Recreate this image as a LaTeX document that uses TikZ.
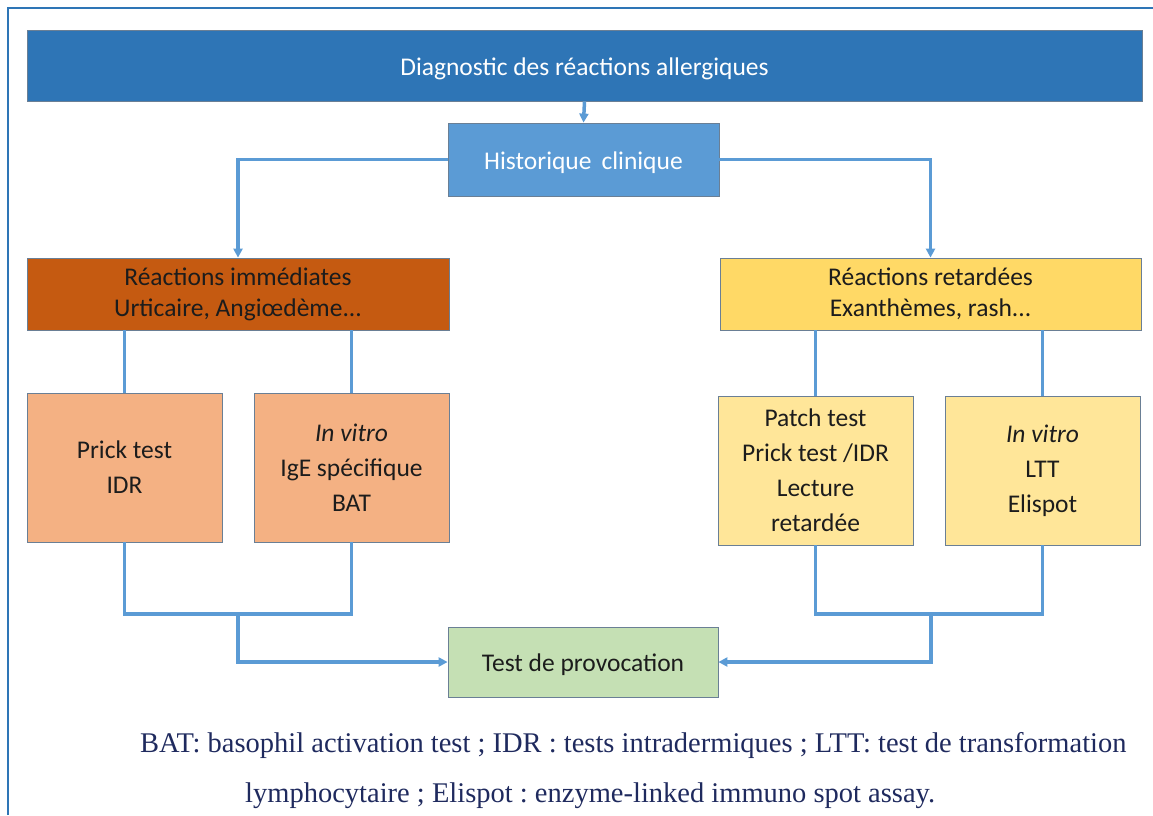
\documentclass[tikz,border=0pt]{standalone}
\usepackage{fontspec}
\setmainfont{Carlito}
\newfontfamily\capfont{Liberation Serif}
\usetikzlibrary{arrows.meta}
\frenchspacing
\definecolor{cTop}{HTML}{2E75B6}
\definecolor{cHist}{HTML}{5B9BD5}
\definecolor{cImm}{HTML}{C55A11}
\definecolor{cRet}{HTML}{FFD966}
\definecolor{cImmS}{HTML}{F4B183}
\definecolor{cRetS}{HTML}{FFE699}
\definecolor{cTest}{HTML}{C5E0B4}
\definecolor{cLine}{HTML}{5B9BD5}
\definecolor{cBorder}{HTML}{6A7F95}
\definecolor{cText}{HTML}{1C1C1C}
\definecolor{cCap}{HTML}{1F2A5E}
\newcommand{\lowr}[1]{\raisebox{-3pt}[\height][\depth]{#1}}
\tikzset{
  box/.style={draw=cBorder, line width=0.8pt, inner sep=0pt, align=center, text=cText,
    font=\fontsize{25.5pt}{31pt}\selectfont},
  subbox/.style={box, font=\fontsize{25.5pt}{35pt}\selectfont},
  conn/.style={draw=cLine, line width=3.5pt},
  arr/.style={-{Triangle[length=9pt,width=9pt]}},
  captext/.style={anchor=base west, inner sep=0pt, text=cCap, font=\capfont\fontsize{28.5pt}{34pt}\selectfont},
}
\begin{document}
\begin{tikzpicture}[x=1pt,y=-1pt]
\useasboundingbox (0,0) rectangle (1153,815);
% frame
\draw[cTop, line width=2pt] (8,815) -- (8,8) -- (1153,8);
% nodes
\node[box, fill=cTop, text=white, minimum width=1115pt, minimum height=71pt] (top) at (584.5,65.5) {\lowr{Diagnostic des réactions allergiques}};
\node[box, fill=cHist, text=white, minimum width=271pt, minimum height=73pt] (hist) at (583.5,159.5) {\lowr{Historique\, clinique}};
\node[box, fill=cImm, minimum width=422pt, minimum height=72pt] (imm) at (238,294) {Réactions immédiates\\Urticaire, Angiœdème...};
\node[box, fill=cRet, minimum width=421pt, minimum height=72pt] (ret) at (930.5,294) {Réactions retardées\\Exanthèmes, rash...};
\node[subbox, fill=cImmS, minimum width=195pt, minimum height=149pt] (prick) at (124.5,467.5) {Prick test\\IDR};
\node[subbox, fill=cImmS, minimum width=195pt, minimum height=149pt] (ivl) at (351.5,467.5) {\textit{In vitro}\\IgE spécifique\\BAT};
\node[subbox, fill=cRetS, minimum width=195pt, minimum height=149pt] (patch) at (815.5,470.5) {Patch test\\Prick test /IDR\\Lecture\\retardée};
\node[subbox, fill=cRetS, minimum width=195pt, minimum height=149pt] (ivr) at (1042.5,470.5) {\textit{In vitro}\\LTT\\Elispot};
\node[box, fill=cTest, minimum width=270pt, minimum height=70pt] (test) at (583,662) {\lowr{Test de provocation}};
% join points
\coordinate (jl) at (238,614);
\coordinate (jr) at (931,614);
% connectors
\draw[conn, arr] (top.south) -- (hist.north);
\draw[conn, arr] (hist.west) -| (imm.north);
\draw[conn, arr] (hist.east) -| (ret.north);
\draw[conn] (imm.south -| prick.north) -- (prick.north);
\draw[conn] (imm.south -| ivl.north) -- (ivl.north);
\draw[conn] (ret.south -| patch.north) -- (patch.north);
\draw[conn] (ret.south -| ivr.north) -- (ivr.north);
\draw[conn] (prick.south) |- (jl) -| (ivl.south);
\draw[conn] (patch.south) |- (jr) -| (ivr.south);
\draw[conn, arr] (jl) |- (test.west);
\draw[conn, arr] (jr) |- (test.east);
% caption
\node[captext] (cap1) at (140,752) {BAT: basophil activation test ; IDR : tests intradermiques ; LTT: test de transformation};
\node[captext] (cap2) at (245,802) {lymphocytaire ; Elispot : enzyme-linked immuno spot assay.};
\end{tikzpicture}
\end{document}
